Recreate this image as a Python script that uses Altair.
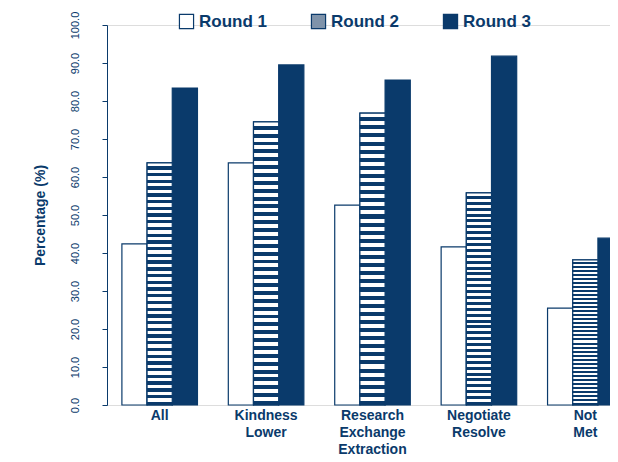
import altair as alt
import pandas as pd

categories = ["All", "Kindness|Lower", "Research|Exchange|Extraction", "Negotiate|Resolve", "Not|Met"]
series = ["Round 1", "Round 2", "Round 3"]
round1 = [42.4, 63.7, 52.6, 41.6, 25.5]
round2 = [63.7, 74.5, 76.8, 55.8, 38.2]
round3 = [83.4, 89.5, 85.5, 91.8, 43.9]
y_ticks = [0, 10, 20, 30, 40, 50, 60, 70, 80, 90, 100]

BLUE = "#0a3a6b"

rows = []
for i, c in enumerate(categories):
    for s, vals in zip(series, [round1, round2, round3]):
        rows.append({"category": c, "series": s, "value": vals[i]})
df = pd.DataFrame(rows)

stops = []
n = 36
for k in range(n):
    a = k / n
    b = (k + 0.5) / n
    e = (k + 1) / n
    stops += [alt.GradientStop(offset=a, color="white"),
              alt.GradientStop(offset=b, color="white"),
              alt.GradientStop(offset=b, color=BLUE),
              alt.GradientStop(offset=e, color=BLUE)]
stripe = alt.Gradient(gradient="linear", x1=0, x2=0, y1=0, y2=1, stops=stops)

x_enc = alt.X("category:N", sort=categories, title=None,
              scale=alt.Scale(paddingInner=0.29, paddingOuter=0.14, range=[0, 531]),
              axis=alt.Axis(labelExpr="split(datum.label, '|')", labelAngle=0,
                            labelFontSize=14, labelFontWeight="bold", labelColor=BLUE,
                            labelLineHeight=17, domain=False, ticks=False, labelPadding=3))
y_enc = alt.Y("value:Q", title="Percentage (%)",
              scale=alt.Scale(domain=[0, 100], nice=False),
              axis=alt.Axis(values=y_ticks, format=".1f", labelAngle=-90, labelAlign="center",
                            labelBaseline="bottom", labelFontSize=11, labelColor=BLUE,
                            titleFontSize=14, titleColor=BLUE, titleFontWeight="bold",
                            domainColor=BLUE, tickColor=BLUE, grid=False, labelPadding=22,
                            titlePadding=22))
xo = alt.XOffset("series:N", sort=series, scale=alt.Scale(domain=series))

base = alt.Chart(df).mark_bar(stroke=BLUE, strokeWidth=1.2).encode(
    x=x_enc, y=y_enc, xOffset=xo,
    fill=alt.Fill("series:N", sort=series,
                  scale=alt.Scale(domain=series, range=["white", "#7f93aa", BLUE]),
                  legend=alt.Legend(orient="none", legendX=71, legendY=-12, direction="horizontal",
                                    title=None, symbolType="square", symbolSize=200,
                                    symbolStrokeColor=BLUE, symbolStrokeWidth=1.2,
                                    labelFontSize=17, labelColor=BLUE, labelFontWeight="bold",
                                    columnPadding=42, labelLimit=200)),
)

hatch = alt.Chart(df).transform_filter(alt.datum.series == "Round 2").mark_bar(
    fill=stripe, stroke=BLUE, strokeWidth=1.2).encode(x=x_enc, y=y_enc, xOffset=xo)

chart = alt.layer(base, hatch).properties(
    width=503, height=380,
    autosize=alt.AutoSizeParams(type="none"),
    padding={"left": 99, "top": 17, "right": 0, "bottom": 50},
).configure_view(stroke=None).configure(font="Liberation Sans")

chart.save("out.html", embed_options={"renderer": "svg", "actions": False})
